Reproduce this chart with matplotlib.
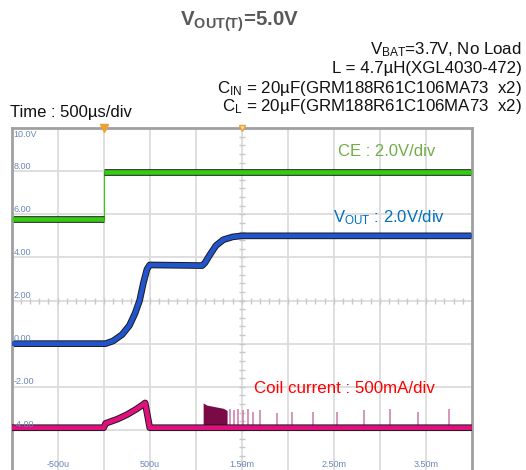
import numpy as np
import matplotlib
matplotlib.use("Agg")
import matplotlib.pyplot as plt

plt.rcParams['font.family'] = ['Liberation Sans', 'DejaVu Sans']
plt.rcParams['mathtext.fontset'] = 'custom'
plt.rcParams['mathtext.rm'] = 'Liberation Sans'
plt.rcParams['mathtext.it'] = 'Liberation Sans:italic'
plt.rcParams['mathtext.bf'] = 'Liberation Sans:bold'

# data (time in ms, values in screen volts, 2 V per division)
ce_low_t = [-1.0, 0.0]
ce_low_v = [5.8, 5.8]
ce_high_t = [0.0, 4.0]
ce_high_v = [7.95, 7.95]

vout_t = [-1.0, 0.02, 0.1, 0.2, 0.28, 0.34, 0.39, 0.43, 0.47, 0.5,
          1.07, 1.1, 1.15, 1.22, 1.3, 1.4, 1.5, 4.0]
vout_v = [0.0, 0.0, 0.12, 0.42, 0.85, 1.4, 2.0, 2.8, 3.45, 3.65,
          3.62, 3.75, 4.1, 4.55, 4.82, 4.95, 5.0, 5.0]

coil_t = [-1.0, 0.0, 0.02, 0.15, 0.25, 0.35, 0.43, 0.45, 0.5, 4.0]
coil_v = [-3.9, -3.9, -3.7, -3.5, -3.3, -3.05, -2.82, -2.75, -3.9, -3.9]

burst_t = [1.08, 1.12, 1.18, 1.24, 1.30, 1.34]
burst_top = [-2.75, -2.85, -2.9, -2.95, -3.0, -3.1]

spike_t = [1.37, 1.42, 1.46, 1.51, 1.57, 1.62, 1.70, 1.88, 2.04,
           2.27, 2.53, 2.83, 3.11, 3.41, 3.75]
spike_top = [-3.05, -3.1, -3.05, -3.1, -3.05, -3.15, -3.1, -3.2, -3.15,
             -3.15, -3.15, -3.1, -3.05, -3.15, -3.05]

ytick_vals = [10, 8, 6, 4, 2, 0, -2, -4]
ytick_labels = ["10.0V", "8.00", "6.00", "4.00", "2.00", "0.00", "-2.00", "-4.00"]
xtick_vals = [-0.5, 0.5, 1.5, 2.5, 3.5]
xtick_labels = ["-500u", "500u", "1.50m", "2.50m", "3.50m"]

fig = plt.figure(figsize=(5.26, 4.70), dpi=100)
ax = fig.add_axes([0.0222, -0.0064, 0.875, 0.734])
ax.set_xlim(-1.0, 4.0)
ax.set_ylim(-6.0, 10.0)

# grid
for x in np.arange(-0.5, 4.0, 0.5):
    ax.axvline(x, color='#dcdcdc', lw=1.3, zorder=0)
for y in np.arange(-4, 10, 2):
    ax.axhline(y, color='#dcdcdc', lw=1.3, zorder=0)
# minor ticks on the centre lines
ax.plot(np.full(40, 1.5), np.arange(-6, 10, 0.4), ls='none', marker='_',
        ms=4, color='#c8c8c8', zorder=0)
ax.plot(np.arange(-1, 4, 0.1), np.full(50, 2.0), ls='none', marker='|',
        ms=4, color='#c8c8c8', zorder=0)

for s in ['left', 'right', 'top']:
    ax.spines[s].set_color('#a0a0a0')
    ax.spines[s].set_linewidth(2)
ax.spines['bottom'].set_visible(False)
ax.set_xticks([])
ax.set_yticks([])

# traces
ax.plot([0.0, 0.0], [ce_low_v[-1], ce_high_v[0]], color='#33cc11', lw=0.8, zorder=2)
for tt, vv in [(ce_low_t, ce_low_v), (ce_high_t, ce_high_v)]:
    ax.plot(tt, vv, color='#1a1a1a', lw=4.8, zorder=2, solid_capstyle='butt')
    ax.plot(tt, vv, color='#33cc11', lw=3.4, zorder=3, solid_capstyle='butt')
ax.plot(vout_t, vout_v, color='#1a1a1a', lw=4.8, zorder=2, solid_capstyle='butt')
ax.plot(vout_t, vout_v, color='#2255cc', lw=3.4, zorder=3, solid_capstyle='butt')

ax.fill_between(burst_t, -3.9, burst_top, color='#7a0a45', lw=0, zorder=2)
ax.vlines(spike_t, -3.9, spike_top, color='#c77aa8', lw=1.1, zorder=2)
ax.plot(coil_t, coil_v, color='#1a1a1a', lw=4.8, zorder=3, solid_capstyle='butt')
ax.plot(coil_t, coil_v, color='#e0107f', lw=3.4, zorder=4, solid_capstyle='butt')

# trigger markers
ax.plot([0.0], [10.0], marker='v', ms=6, color='#f0a030', clip_on=False, zorder=6)
ax.plot([1.5], [10.0], marker='v', ms=5, mfc='#ffe0b0', mec='#f0a030',
        clip_on=False, zorder=6)

# scope scale labels
for v, lab in zip(ytick_vals, ytick_labels):
    if v == 10:
        ax.text(-0.98, v - 0.3, lab, fontsize=6.5, color='#6a88b8', va='center', zorder=5)
    else:
        ax.text(-0.98, v + 0.03, lab, fontsize=6.5, color='#6a88b8', va='bottom', zorder=5)
for t, lab in zip(xtick_vals, xtick_labels):
    ax.text(t, -5.82, lab, fontsize=6.5, color='#6a88b8', ha='center',
            va='bottom', zorder=5)

ax.text(2.54, 8.9, "CE : 2.0V/div", fontsize=12, color='#70ad47',
        va='center', zorder=5)
ax.text(2.49, 5.85, r"V$_{\mathrm{OUT}}$ : 2.0V/div", fontsize=12,
        color='#0070c0', va='center', zorder=5)
ax.text(1.63, -2.1, "Coil current : 500mA/div", fontsize=12.2, color='#ff0000',
        va='center', zorder=5)

# header texts
fig.text(240 / 526, 1 - 22 / 470, r"V$_{\mathbf{OUT(T)}}$=5.0V", fontsize=14.8,
         fontweight='bold', color='#595959', ha='center', va='center')
info = [r"V$_{\mathrm{BAT}}$=3.7V, No Load",
        "L = 4.7µH(XGL4030-472)",
        r"C$_{\mathrm{IN}}$ = 20µF(GRM188R61C106MA73  x2)",
        r"C$_{\mathrm{L}}$ = 20µF(GRM188R61C106MA73  x2)"]
info_y = [50, 69, 88, 107]
for s, yy in zip(info, info_y):
    fig.text(522 / 526, 1 - yy / 470, s, fontsize=12.2, color='#111111',
             ha='right', va='center')
fig.text(10 / 526, 1 - 112 / 470, "Time : 500µs/div", fontsize=12,
         color='#111111', ha='left', va='center')

fig.savefig("out.png", dpi=100)
